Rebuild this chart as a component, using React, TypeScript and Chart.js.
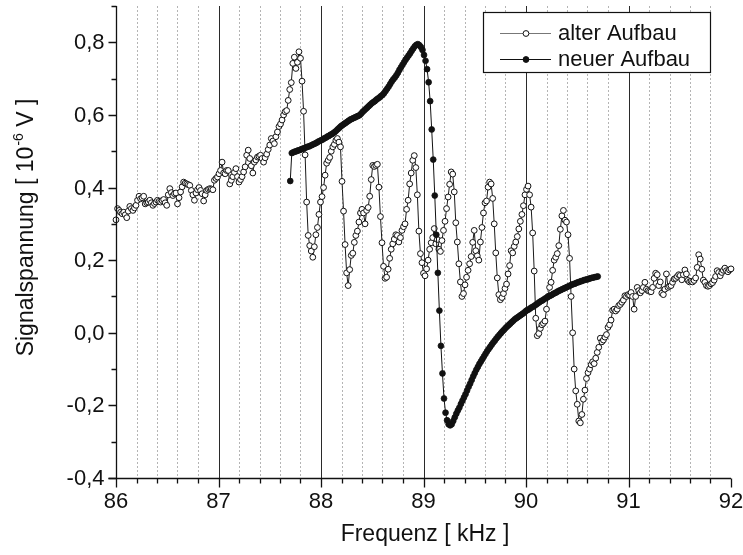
import { useEffect, useRef } from "react";
import { Chart, registerables } from "chart.js";

Chart.register(...registerables);

// Frequency grid of the two measurements (kHz)
const ALT_FREQ_START = 86.0;
const NEW_FREQ_START = 87.7;
const FREQ_STEP = 0.015;

// Signal voltage, old setup (10^-6 V)
const alterAufbau = [
  0.311, 0.342, 0.337, 0.332, 0.328, 0.332, 0.325, 0.317, 0.335, 0.348,
  0.342, 0.337, 0.344, 0.351, 0.365, 0.376, 0.369, 0.372, 0.376, 0.355,
  0.358, 0.36, 0.365, 0.358, 0.351, 0.356, 0.36, 0.365, 0.362, 0.36,
  0.364, 0.367, 0.358, 0.351, 0.38, 0.397, 0.386, 0.378, 0.383, 0.385,
  0.355, 0.372, 0.388, 0.402, 0.415, 0.412, 0.41, 0.408, 0.406, 0.392,
  0.38, 0.365, 0.385, 0.394, 0.4, 0.392, 0.383, 0.363, 0.38, 0.392,
  0.395, 0.397, 0.396, 0.394, 0.42, 0.425, 0.429, 0.438, 0.447, 0.47,
  0.44, 0.438, 0.447, 0.447, 0.41, 0.42, 0.43, 0.442, 0.452, 0.43,
  0.415, 0.422, 0.43, 0.443, 0.457, 0.489, 0.503, 0.48, 0.46, 0.44,
  0.47, 0.476, 0.484, 0.486, 0.489, 0.48, 0.47, 0.482, 0.492, 0.505,
  0.517, 0.535, 0.528, 0.521, 0.54, 0.553, 0.568, 0.575, 0.586, 0.6,
  0.609, 0.612, 0.64, 0.67, 0.689, 0.742, 0.759, 0.728, 0.745, 0.774,
  0.756, 0.693, 0.61, 0.49, 0.36, 0.268, 0.24, 0.225, 0.208, 0.237,
  0.27, 0.29, 0.326, 0.36, 0.375, 0.4, 0.434, 0.467, 0.475, 0.483,
  0.5, 0.512, 0.519, 0.53, 0.535, 0.525, 0.512, 0.417, 0.335, 0.243,
  0.165, 0.13, 0.174, 0.213, 0.219, 0.249, 0.268, 0.28, 0.305, 0.33,
  0.34, 0.33, 0.3, 0.337, 0.345, 0.376, 0.422, 0.461, 0.458, 0.461,
  0.464, 0.401, 0.32, 0.248, 0.183, 0.15, 0.153, 0.175, 0.205, 0.23,
  0.245, 0.258, 0.27, 0.268, 0.25, 0.262, 0.282, 0.292, 0.3, 0.34,
  0.365, 0.41, 0.44, 0.475, 0.488, 0.455, 0.38, 0.28, 0.218, 0.193,
  0.164, 0.157, 0.176, 0.2, 0.23, 0.248, 0.262, 0.287, 0.245, 0.257,
  0.23, 0.224, 0.254, 0.282, 0.307, 0.342, 0.374, 0.409, 0.443, 0.437,
  0.388, 0.303, 0.25, 0.19, 0.14, 0.1, 0.108, 0.132, 0.153, 0.172,
  0.19, 0.21, 0.249, 0.282, 0.226, 0.212, 0.2, 0.25, 0.29, 0.33,
  0.358, 0.363, 0.401, 0.415, 0.41, 0.37, 0.3, 0.22, 0.151, 0.105,
  0.091, 0.097, 0.108, 0.122, 0.134, 0.162, 0.185, 0.226, 0.22, 0.238,
  0.25, 0.265, 0.286, 0.307, 0.326, 0.35, 0.38, 0.395, 0.404, 0.38,
  0.346, 0.275, 0.17, 0.04, -0.008, -0.002, 0.012, 0.022, 0.026, 0.032,
  0.065, 0.1, 0.125, 0.139, 0.172, 0.2, 0.208, 0.218, 0.24, 0.285,
  0.322, 0.337, 0.31, 0.305, 0.27, 0.205, 0.1, 0.0, -0.1, -0.16,
  -0.197, -0.243, -0.248, -0.225, -0.183, -0.158, -0.126, -0.11, -0.1, -0.088,
  -0.08, -0.085, -0.07, -0.054, -0.04, -0.015, -0.025, -0.02, -0.012, -0.005,
  0.015, 0.022, 0.035, 0.062, 0.065, 0.06, 0.065, 0.075, 0.078, 0.084,
  0.09, 0.102, 0.1, 0.105, 0.104, 0.111, 0.1, 0.065, 0.1, 0.125,
  0.116, 0.11, 0.116, 0.125, 0.139, 0.12, 0.116, 0.114, 0.113, 0.125,
  0.15, 0.164, 0.16, 0.13, 0.14, 0.109, 0.105, 0.12, 0.162, 0.125,
  0.128, 0.13, 0.139, 0.148, 0.15, 0.155, 0.16, 0.158, 0.146, 0.16,
  0.173, 0.162, 0.144, 0.14, 0.142, 0.14, 0.144, 0.151, 0.18, 0.215,
  0.203, 0.175, 0.145, 0.139, 0.13, 0.128, 0.13, 0.135, 0.138, 0.145,
  0.155, 0.171, 0.166, 0.157, 0.166, 0.172, 0.178, 0.171, 0.168, 0.173,
  0.176,
];

// Signal voltage, new setup (10^-6 V)
const neuerAufbau = [
  0.418, 0.495, 0.497, 0.499, 0.5, 0.502, 0.503, 0.505, 0.507, 0.508,
  0.51, 0.512, 0.513, 0.515, 0.517, 0.519, 0.521, 0.523, 0.526, 0.528,
  0.53, 0.532, 0.535, 0.537, 0.54, 0.542, 0.545, 0.547, 0.55, 0.553,
  0.557, 0.561, 0.565, 0.569, 0.572, 0.575, 0.578, 0.581, 0.584, 0.587,
  0.589, 0.591, 0.593, 0.595, 0.597, 0.599, 0.603, 0.608, 0.612, 0.616,
  0.62, 0.624, 0.628, 0.632, 0.635, 0.638, 0.642, 0.645, 0.648, 0.652,
  0.655, 0.66, 0.666, 0.672, 0.678, 0.685, 0.692, 0.698, 0.703, 0.709,
  0.716, 0.724, 0.731, 0.738, 0.745, 0.752, 0.758, 0.764, 0.77, 0.777,
  0.783, 0.789, 0.793, 0.795, 0.792, 0.787, 0.779, 0.765, 0.749, 0.726,
  0.69, 0.638, 0.56, 0.477, 0.378, 0.27, 0.165, 0.061, -0.036, -0.112,
  -0.181, -0.22, -0.241, -0.252, -0.255, -0.252, -0.243, -0.233, -0.223, -0.214,
  -0.206, -0.196, -0.187, -0.178, -0.169, -0.159, -0.149, -0.14, -0.13, -0.12,
  -0.111, -0.102, -0.094, -0.086, -0.079, -0.072, -0.065, -0.058, -0.051, -0.045,
  -0.039, -0.033, -0.027, -0.022, -0.016, -0.011, -0.006, -0.001, 0.004, 0.008,
  0.013, 0.017, 0.021, 0.025, 0.029, 0.033, 0.037, 0.04, 0.043, 0.046,
  0.049, 0.052, 0.055, 0.059, 0.062, 0.064, 0.067, 0.07, 0.072, 0.075,
  0.078, 0.081, 0.084, 0.087, 0.089, 0.092, 0.095, 0.097, 0.1, 0.102,
  0.104, 0.107, 0.109, 0.111, 0.114, 0.116, 0.118, 0.12, 0.122, 0.124,
  0.126, 0.128, 0.13, 0.132, 0.134, 0.135, 0.137, 0.139, 0.14, 0.142,
  0.143, 0.145, 0.146, 0.147, 0.148, 0.15, 0.151, 0.152, 0.153, 0.154,
  0.155,
];

const seriesNames = ["alter Aufbau", "neuer Aufbau"];

// Axis ranges, ticks and labels
const X_MIN = 86;
const X_MAX = 92;
const Y_MIN = -0.4;
const Y_MAX = 0.9;
const xMajorTicks = [86, 87, 88, 89, 90, 91, 92];
const xTickLabels = ["86", "87", "88", "89", "90", "91", "92"];
const xMinorStep = 0.2;
const yMajorTicks = [-0.4, -0.2, 0.0, 0.2, 0.4, 0.6, 0.8];
const yTickLabels = ["-0,4", "-0,2", "0,0", "0,2", "0,4", "0,6", "0,8"];
const yMinorStep = 0.1;

const xTitle = "Frequenz [ kHz ]";
const yTitleParts = ["Signalspannung [ 10", "-6", " V ]"];

const FONT_FAMILY = '"Liberation Sans", Arial, Helvetica, sans-serif';
const TICK_FONT = `22px ${FONT_FAMILY}`;
const TITLE_FONT = `23px ${FONT_FAMILY}`;
const LEGEND_FONT = `22px ${FONT_FAMILY}`;

const toPoints = (start: number, values: number[]) =>
  values.map((v, i) => ({ x: +(start + i * FREQ_STEP).toFixed(3), y: v }));

// Grid lines behind the data: dotted every 0.2 kHz, solid at whole kHz
const gridPlugin = {
  id: "kHzGrid",
  beforeDatasetsDraw(chart: any) {
    const { ctx, chartArea: a, scales } = chart;
    const x = scales.x;
    ctx.save();
    const n = Math.round((X_MAX - X_MIN) / xMinorStep);
    for (let k = 1; k < n; k++) {
      const v = X_MIN + k * xMinorStep;
      const px = Math.round(x.getPixelForValue(v)) + 0.5;
      const whole = Math.abs(v - Math.round(v)) < 1e-6;
      ctx.beginPath();
      if (whole) {
        ctx.setLineDash([]);
        ctx.strokeStyle = "#2a2a2a";
        ctx.lineWidth = 1;
      } else {
        ctx.setLineDash([2, 2]);
        ctx.strokeStyle = "#b4b4b4";
        ctx.lineWidth = 1;
      }
      ctx.moveTo(px, a.top);
      ctx.lineTo(px, a.bottom);
      ctx.stroke();
    }
    ctx.restore();
  },
};

// Axes, ticks, labels, titles and legend on top of the data
const framePlugin = {
  id: "axesFrame",
  afterDatasetsDraw(chart: any) {
    const { ctx, chartArea: a, scales } = chart;
    const x = scales.x;
    const y = scales.y;
    const left = Math.round(a.left) + 0.5;
    const bottom = Math.round(a.bottom) + 0.5;
    ctx.save();
    ctx.setLineDash([]);
    ctx.strokeStyle = "#111";
    ctx.lineWidth = 1.3;

    // axis lines
    ctx.beginPath();
    ctx.moveTo(left, Math.round(a.top));
    ctx.lineTo(left, bottom);
    ctx.moveTo(left - 8, bottom);
    ctx.lineTo(Math.round(a.right), bottom);
    ctx.stroke();

    // y ticks (outside, to the left)
    const ny = Math.round((Y_MAX - Y_MIN) / yMinorStep);
    ctx.beginPath();
    for (let k = 0; k <= ny; k++) {
      const v = Y_MIN + k * yMinorStep;
      const py = Math.round(y.getPixelForValue(v)) + 0.5;
      const major = k % 2 === 0 && v < Y_MAX - 1e-6;
      ctx.moveTo(left, py);
      ctx.lineTo(left - (major ? 8 : 5), py);
    }
    ctx.stroke();

    // x ticks (outside, downward)
    const nx = Math.round((X_MAX - X_MIN) / xMinorStep);
    ctx.beginPath();
    for (let k = 0; k <= nx; k++) {
      const v = X_MIN + k * xMinorStep;
      const px = Math.round(x.getPixelForValue(v)) + 0.5;
      const major = k % 5 === 0;
      ctx.moveTo(px, bottom);
      ctx.lineTo(px, bottom + (major ? 9 : 5));
    }
    ctx.stroke();

    // tick labels
    ctx.fillStyle = "#111";
    ctx.font = TICK_FONT;
    ctx.textAlign = "right";
    ctx.textBaseline = "middle";
    yMajorTicks.forEach((v, i) => {
      ctx.fillText(yTickLabels[i], left - 12, y.getPixelForValue(v) + 1);
    });
    ctx.textAlign = "center";
    ctx.textBaseline = "top";
    xMajorTicks.forEach((v, i) => {
      ctx.fillText(xTickLabels[i], x.getPixelForValue(v), bottom + 12);
    });

    // x title
    ctx.font = TITLE_FONT;
    ctx.textBaseline = "middle";
    ctx.fillText(xTitle, 425, 535);

    // y title with superscript exponent
    ctx.save();
    ctx.translate(27, 228);
    ctx.rotate(-Math.PI / 2);
    ctx.textAlign = "left";
    ctx.textBaseline = "middle";
    const supFont = `14px ${FONT_FAMILY}`;
    ctx.font = TITLE_FONT;
    const w0 = ctx.measureText(yTitleParts[0]).width;
    const w2 = ctx.measureText(yTitleParts[2]).width;
    ctx.font = supFont;
    const w1 = ctx.measureText(yTitleParts[1]).width;
    let cx = -(w0 + w1 + w2) / 2;
    ctx.font = TITLE_FONT;
    ctx.fillText(yTitleParts[0], cx, 0);
    cx += w0 + 1;
    ctx.font = supFont;
    ctx.fillText(yTitleParts[1], cx, -8);
    cx += w1;
    ctx.font = TITLE_FONT;
    ctx.fillText(yTitleParts[2], cx, 0);
    ctx.restore();

    // legend
    const bx = 483.5;
    const by = 12.5;
    ctx.fillStyle = "#fff";
    ctx.fillRect(bx, by, 227, 60);
    ctx.lineWidth = 1.2;
    ctx.strokeStyle = "#111";
    ctx.strokeRect(bx, by, 227, 60);
    const rows = [33, 59];
    chart.data.datasets.forEach((ds: any) => {
      const idx = seriesNames.indexOf(ds.label);
      const ry = rows[idx];
      ctx.beginPath();
      ctx.lineWidth = 1;
      ctx.strokeStyle = idx === 0 ? "#777" : "#111";
      ctx.moveTo(500, ry + 0.5);
      ctx.lineTo(551, ry + 0.5);
      ctx.stroke();
      ctx.beginPath();
      ctx.arc(526, ry + 0.5, 2.9, 0, Math.PI * 2);
      ctx.fillStyle = ds.pointBackgroundColor;
      ctx.fill();
      ctx.lineWidth = 1;
      ctx.strokeStyle = "#111";
      ctx.stroke();
      ctx.fillStyle = "#111";
      ctx.font = LEGEND_FONT;
      ctx.textAlign = "left";
      ctx.textBaseline = "middle";
      ctx.fillText(ds.label, 558, ry + 1);
    });
    ctx.restore();
  },
};

export default function App() {
  const canvasRef = useRef<HTMLCanvasElement | null>(null);

  useEffect(() => {
    const canvas = canvasRef.current;
    if (!canvas) return;
    const chart = new Chart(canvas, {
      type: "scatter",
      data: {
        datasets: [
          {
            label: seriesNames[1],
            data: toPoints(NEW_FREQ_START, neuerAufbau),
            showLine: true,
            borderColor: "#111",
            borderWidth: 1,
            pointRadius: 2.9,
            pointBackgroundColor: "#111",
            pointBorderColor: "#111",
            pointBorderWidth: 0.8,
            clip: false,
          },
          {
            label: seriesNames[0],
            data: toPoints(ALT_FREQ_START, alterAufbau),
            showLine: true,
            borderColor: "#1a1a1a",
            borderWidth: 1,
            pointRadius: 2.9,
            pointBackgroundColor: "#fff",
            pointBorderColor: "#111",
            pointBorderWidth: 1,
            clip: false,
          },
        ],
      },
      options: {
        responsive: false,
        animation: false,
        devicePixelRatio: 1,
        events: [],
        layout: {
          autoPadding: false,
          padding: { top: 6, right: 12, left: 0, bottom: 0 },
        },
        plugins: {
          legend: { display: false },
          tooltip: { enabled: false },
        },
        scales: {
          x: {
            type: "linear",
            min: X_MIN,
            max: X_MAX,
            grid: { display: false },
            border: { display: false },
            ticks: { display: false },
            afterFit: (s: any) => {
              s.height = 77;
            },
          },
          y: {
            type: "linear",
            min: Y_MIN,
            max: Y_MAX,
            grid: { display: false },
            border: { display: false },
            ticks: { display: false },
            afterFit: (s: any) => {
              s.width = 116;
            },
          },
        },
      } as any,
      plugins: [gridPlugin, framePlugin],
    });
    return () => chart.destroy();
  }, []);

  return (
    <div
      style={{
        position: "absolute",
        left: 0,
        top: 0,
        width: 743,
        height: 555,
        background: "#fff",
      }}
    >
      <canvas ref={canvasRef} width={743} height={555} />
    </div>
  );
}
